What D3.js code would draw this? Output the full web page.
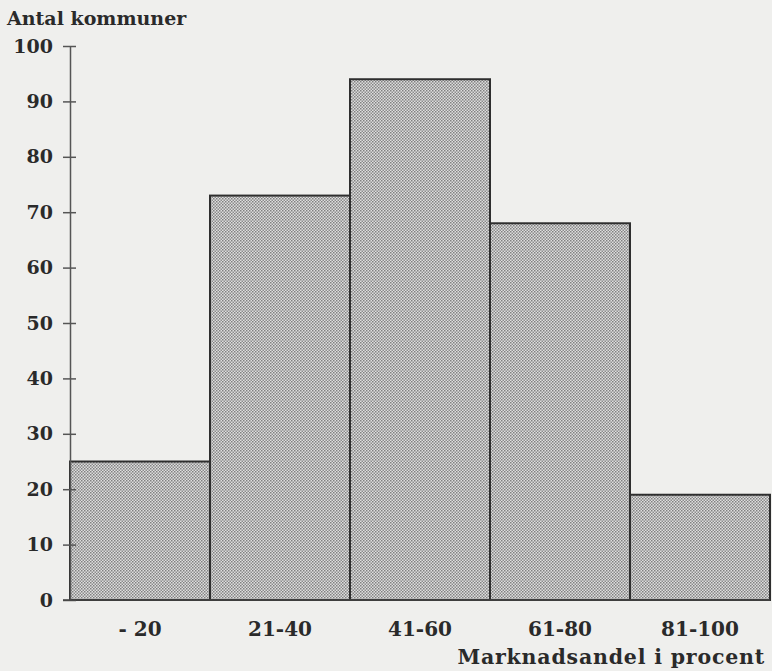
<!DOCTYPE html>
<html><head><meta charset="utf-8">
<script src="https://cdn.jsdelivr.net/npm/d3@7"></script>
<style>
html,body{margin:0;padding:0;background:#efefed;}
svg{display:block;}
text{font-family:"DejaVu Serif",serif;font-weight:bold;fill:#2a2a2a;}
</style></head>
<body>
<svg id="chart" width="772" height="671"></svg>
<script>
const categories = ["- 20", "21-40", "41-60", "61-80", "81-100"];
const values = [25, 73, 94, 68, 19];
const yTicks = [0, 10, 20, 30, 40, 50, 60, 70, 80, 90, 100];
const yTitle = "Antal kommuner";
const xTitle = "Marknadsandel i procent";

const svg = d3.select("#chart");
svg.append("rect").attr("width",772).attr("height",671).attr("fill","#efefed");

const defs = svg.append("defs");
const pat = defs.append("pattern").attr("id","dots").attr("patternUnits","userSpaceOnUse")
  .attr("width",3).attr("height",3);
pat.append("rect").attr("width",3).attr("height",3).attr("fill","#dedede");
pat.append("rect").attr("x",0).attr("y",0).attr("width",1.5).attr("height",1.5).attr("fill","#808080");
pat.append("rect").attr("x",1.5).attr("y",1.5).attr("width",1.5).attr("height",1.5).attr("fill","#8c8c8c");

const x = d3.scaleBand().domain(categories).range([70, 770]).paddingInner(0).paddingOuter(0);
const y = d3.scaleLinear().domain([0, 100]).range([600, 46]);

const fontStyle = (sel, size) => sel.style("font-size",(size||19)+"px").style("font-family","DejaVu Serif, serif")
  .style("font-weight","bold").attr("fill","#2a2a2a");

// bars
svg.append("g").selectAll("rect").data(values).join("rect")
  .attr("x",(d,i)=>x(categories[i]))
  .attr("y",d=>y(d))
  .attr("width",x.bandwidth())
  .attr("height",d=>y(0)-y(d))
  .attr("fill","url(#dots)")
  .attr("stroke","#2e2e2e")
  .attr("stroke-width",2);

// y axis
const yAxis = svg.append("g").attr("transform","translate(70,0)")
  .call(d3.axisLeft(y).tickValues(yTicks).tickSizeInner(0).tickSizeOuter(0).tickPadding(17));
yAxis.select(".domain").attr("stroke","#555").attr("stroke-width",1.5);
yAxis.selectAll(".tick line").remove();
yAxis.selectAll(".tick").append("line").attr("x1",-7).attr("x2",6).attr("stroke","#555").attr("stroke-width",1.5);
fontStyle(yAxis.selectAll(".tick text"), 19);

// x axis
const xAxis = svg.append("g").attr("transform","translate(0,600)")
  .call(d3.axisBottom(x).tickSizeInner(0).tickSizeOuter(0).tickPadding(22));
xAxis.select(".domain").attr("stroke","#444").attr("stroke-width",1.5).attr("d","M63,0H770");
fontStyle(xAxis.selectAll(".tick text"), 20);

// titles
fontStyle(svg.append("text").attr("x",7).attr("y",25).text(yTitle), 19);
fontStyle(svg.append("text").attr("x",765).attr("y",664).attr("text-anchor","end")
  .style("letter-spacing","0.8px").text(xTitle), 20.5);
</script>
</body></html>
